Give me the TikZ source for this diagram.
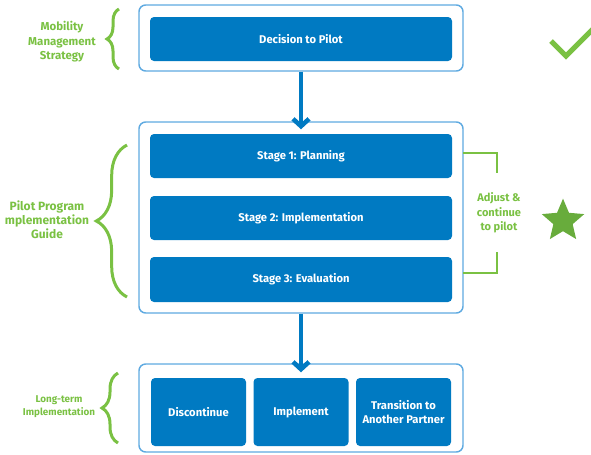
\documentclass[tikz,border=0pt]{standalone}
\usepackage{fontspec}
\setmainfont{Fira Sans}
\usetikzlibrary{arrows.meta,shapes.geometric,decorations.pathreplacing}
\definecolor{boxblue}{RGB}{0,122,194}
\definecolor{edgeblue}{RGB}{95,170,225}
\definecolor{lgreen}{RGB}{122,193,67}
\definecolor{sgreen}{RGB}{104,172,60}
\begin{document}
\begin{tikzpicture}[x=0.75pt,y=-0.75pt,
  outerbox/.style={draw=edgeblue,line width=1.1pt,rounded corners=5pt,fill=white,minimum width=243pt,inner sep=0pt},
  stagebox/.style={fill=boxblue,rounded corners=3pt,text=white,font=\bfseries\fontsize{8.4}{10.5}\selectfont,inner sep=0pt,align=center},
  widebox/.style={stagebox,minimum width=226.5pt,minimum height=33pt},
  smallbox/.style={stagebox,minimum width=71.25pt,minimum height=51pt},
  flow/.style={draw=boxblue,line width=3.4pt,-{Straight Barb[length=5.5pt,width=12pt]}},
  sidelabel/.style={text=lgreen,align=center,inner sep=0pt},
  bracebrace/.style={draw=lgreen,line width=2.25pt,decorate},
  bracket/.style={draw=lgreen,line width=1.5pt}
]
\useasboundingbox (0,0) rectangle (591,454);
\clip (0,0) rectangle (591,454);

% outer boxes
\node[outerbox,minimum height=49.5pt] (o1) at (301,38) {};
\node[outerbox,minimum height=143.25pt] (o2) at (301,217.5) {};
\node[outerbox,minimum height=66pt] (o3) at (301,408) {};

% inner boxes
\node[widebox] (dec) at (301,39) {Decision to Pilot};
\node[widebox] (s1) at (301,156) {Stage 1: Planning};
\node[widebox] (s2) at (301,218) {Stage 2: Implementation};
\node[widebox,minimum height=33.75pt] (s3) at (301,279.5) {Stage 3: Evaluation};
\node[smallbox] (disc) at (198.5,412) {Discontinue};
\node[smallbox] (impl) at (301,412) {Implement};
\node[smallbox] (trans) at (403.5,412) {Transition to\\Another Partner};

% arrows
\draw[flow] (o1.south) -- ([yshift=-6pt]o2.north);
\draw[flow] (o2.south) -- ([yshift=-6.75pt]o3.north);

% left labels
\node[sidelabel,font=\bfseries\fontsize{8.6}{10.9}\selectfont] (l1) at (62,42) {Mobility\\Management\\Strategy};
\node[sidelabel,font=\bfseries\fontsize{9}{10.5}\selectfont] (l2) at (47,220) {Pilot Program\\mplementation\\Guide};
\node[sidelabel,font=\bfseries\fontsize{7.4}{9.8}\selectfont] (l3) at (59,407) {Long-term\\Implementation};

% braces
\coordinate (b1s) at (119,69); \coordinate (b1e) at (119,9);
\coordinate (b2s) at (127,297); \coordinate (b2e) at (127,145);
\coordinate (b3s) at (118,443); \coordinate (b3e) at (118,373);
\draw[bracebrace,decoration={brace,amplitude=9pt}] (b1s) -- (b1e);
\draw[bracebrace,decoration={brace,amplitude=23pt}] (b2s) -- (b2e);
\draw[bracebrace,decoration={brace,amplitude=12pt}] (b3s) -- (b3e);

% right bracket
\coordinate (r1) at (463,153); \coordinate (r2) at (497,153); \coordinate (r3) at (497,173);
\coordinate (r4) at (463,273); \coordinate (r5) at (497,273); \coordinate (r6) at (497,252);
\draw[bracket] (r1) -- (r2) -- (r3);
\draw[bracket] (r4) -- (r5) -- (r6);
\node[sidelabel,font=\bfseries\fontsize{8.3}{10.8}\selectfont] (adj) at (499,213) {Adjust \&\\continue\\to pilot};

% star and check
\node[star,star points=5,star point ratio=2.2,minimum size=33.5pt,inner sep=0pt,fill=sgreen] (star) at (563,221) {};
\coordinate (c1) at (551,41); \coordinate (c2) at (566,56); \coordinate (c3) at (600,22);
\draw[draw=lgreen,line width=3.75pt] (c1) -- (c2) -- (c3);
\end{tikzpicture}
\end{document}
